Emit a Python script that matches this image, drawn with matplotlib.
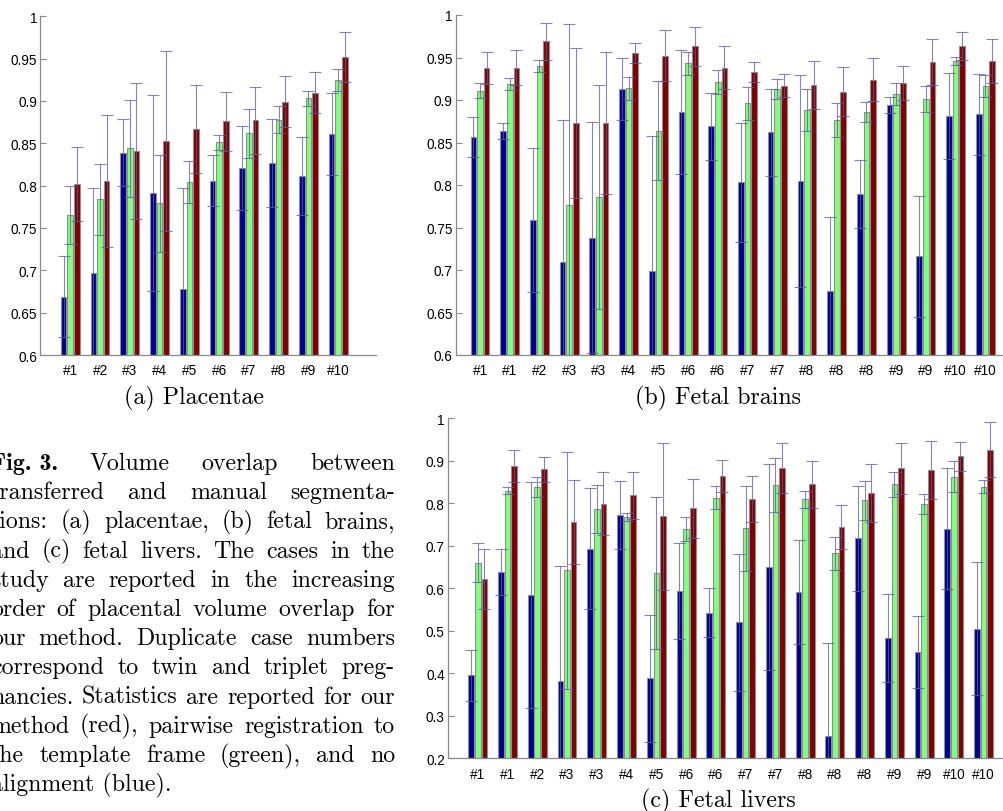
import numpy as np
import matplotlib
matplotlib.use("Agg")
import matplotlib.pyplot as plt
from matplotlib.transforms import IdentityTransform

W, H = 1004, 812

# (a) placentae
labels_a = ['#1', '#2', '#3', '#4', '#5', '#6', '#7', '#8', '#9', '#10']
blue_a = [0.669, 0.697, 0.839, 0.791, 0.678, 0.806, 0.821, 0.827, 0.811, 0.861]
blue_a_sd = [0.048, 0.100, 0.040, 0.116, 0.119, 0.030, 0.050, 0.052, 0.046, 0.048]
green_a = [0.765, 0.784, 0.844, 0.779, 0.804, 0.851, 0.862, 0.878, 0.903, 0.925]
green_a_sd = [0.034, 0.042, 0.057, 0.057, 0.025, 0.009, 0.029, 0.016, 0.0085, 0.013]
red_a = [0.802, 0.805, 0.841, 0.853, 0.867, 0.876, 0.877, 0.899, 0.910, 0.952]
red_a_sd = [0.044, 0.078, 0.080, 0.106, 0.052, 0.035, 0.040, 0.030, 0.024, 0.030]

# (b) fetal brains / (c) fetal livers share the case labels
labels_bc = ['#1', '#1', '#2', '#3', '#3', '#4', '#5', '#6', '#6',
             '#7', '#7', '#8', '#8', '#8', '#9', '#9', '#10', '#10']
blue_b = [0.8565, 0.864, 0.759, 0.709, 0.738, 0.913, 0.699, 0.886, 0.869,
          0.803, 0.862, 0.805, 0.675, 0.789, 0.894, 0.716, 0.881, 0.883]
blue_b_sd = [0.023, 0.0095, 0.085, 0.167, 0.136, 0.037, 0.159, 0.0725, 0.039,
             0.070, 0.051, 0.125, 0.087, 0.040, 0.009, 0.0715, 0.0505, 0.048]
green_b = [0.911, 0.919, 0.940, 0.777, 0.786, 0.914, 0.864, 0.943, 0.921,
           0.896, 0.913, 0.888, 0.8765, 0.886, 0.907, 0.901, 0.946, 0.916]
green_b_sd = [0.009, 0.007, 0.0065, 0.213, 0.132, 0.0135, 0.058, 0.0135, 0.0145,
              0.019, 0.012, 0.025, 0.0205, 0.012, 0.0125, 0.015, 0.005, 0.013]
red_b = [0.938, 0.938, 0.969, 0.873, 0.873, 0.955, 0.952, 0.963, 0.938,
         0.933, 0.917, 0.918, 0.910, 0.924, 0.920, 0.945, 0.964, 0.946]
red_b_sd = [0.019, 0.0205, 0.022, 0.088, 0.083, 0.012, 0.030, 0.023, 0.025,
            0.012, 0.0135, 0.028, 0.029, 0.0255, 0.0205, 0.027, 0.0165, 0.026]

blue_c = [0.395, 0.639, 0.584, 0.383, 0.693, 0.773, 0.388, 0.594, 0.543,
          0.520, 0.650, 0.591, 0.253, 0.718, 0.483, 0.450, 0.740, 0.505]
blue_c_sd = [0.060, 0.054, 0.265, 0.270, 0.142, 0.080, 0.149, 0.1135, 0.0575,
             0.161, 0.242, 0.122, 0.218, 0.1235, 0.1035, 0.0855, 0.1425, 0.156]
green_c = [0.660, 0.830, 0.838, 0.642, 0.787, 0.768, 0.636, 0.739, 0.813,
           0.741, 0.843, 0.809, 0.682, 0.807, 0.845, 0.799, 0.863, 0.839]
green_c_sd = [0.046, 0.008, 0.024, 0.278, 0.056, 0.0095, 0.178, 0.028, 0.0275,
              0.100, 0.0645, 0.0205, 0.0385, 0.0455, 0.029, 0.0235, 0.0355, 0.015]
red_c = [0.622, 0.888, 0.880, 0.756, 0.799, 0.819, 0.770, 0.788, 0.865,
         0.810, 0.883, 0.845, 0.744, 0.824, 0.882, 0.878, 0.911, 0.926]
red_c_sd = [0.070, 0.037, 0.030, 0.098, 0.0735, 0.055, 0.173, 0.069, 0.038,
            0.0545, 0.058, 0.0555, 0.0525, 0.0685, 0.059, 0.0675, 0.034, 0.065]

yticks_ab = [0.6, 0.65, 0.7, 0.75, 0.8, 0.85, 0.9, 0.95, 1.0]
yticks_c = [0.2, 0.3, 0.4, 0.5, 0.6, 0.7, 0.8, 0.9, 1.0]

caption_lines = [
    "Fig. 3. Volume overlap between",
    "transferred and manual segmenta-",
    "tions: (a) placentae, (b) fetal brains,",
    "and (c) fetal livers. The cases in the",
    "study are reported in the increasing",
    "order of placental volume overlap for",
    "our method. Duplicate case numbers",
    "correspond to twin and triplet preg-",
    "nancies. Statistics are reported for our",
    "method (red), pairwise registration to",
    "the template frame (green), and no",
    "alignment (blue).",
]

COLORS = ['#00008f', '#80ff80', '#800000']
EDGE = '#8f8f8f'
ERR = '#5c5c9e'
SPINE = '#8a8a8a'
OFFS = [-0.222, 0.0, 0.222]
BAR_W = 0.19
TICK_FONT = 'Liberation Sans'
SERIF = 'cmr10'
FS_CAP = 17.2

fig = plt.figure(figsize=(W/100, H/100), dpi=100)


def px_rect(left, top, right, bottom):
    return [left/W, 1 - bottom/H, (right-left)/W, (bottom-top)/H]


def fmt(v):
    return ('%g' % v)


def draw_panel(rect, labels, series, sds, ylim, yticks, xlim):
    ax = fig.add_axes(rect)
    x = np.arange(1, len(labels) + 1)
    for k in range(3):
        pos = x + OFFS[k]
        ax.bar(pos, series[k], width=BAR_W, bottom=0, color=COLORS[k],
               edgecolor=EDGE, linewidth=0.8, zorder=2)
        ax.errorbar(pos, series[k], yerr=sds[k], fmt='none', ecolor=ERR,
                    elinewidth=0.8, capsize=4.5, capthick=0.8, alpha=0.75, zorder=3)
    ax.set_xlim(*xlim)
    ax.set_ylim(*ylim)
    ax.set_xticks(x)
    ax.set_xticklabels(labels, fontfamily=TICK_FONT, fontsize=9.8)
    ax.set_yticks(yticks)
    ax.set_yticklabels([fmt(v) for v in yticks], fontfamily=TICK_FONT, fontsize=9.8)
    ax.tick_params(axis='x', length=0, pad=6)
    ax.tick_params(axis='y', direction='in', length=4, width=0.8, color=SPINE, pad=2.5)
    for s in ['top', 'right']:
        ax.spines[s].set_visible(False)
    for s in ['left', 'bottom']:
        ax.spines[s].set_color(SPINE)
        ax.spines[s].set_linewidth(0.9)
    ax.patch.set_alpha(0)
    return ax


draw_panel(px_rect(40.5, 17.3, 376, 356), labels_a,
           [blue_a, green_a, red_a], [blue_a_sd, green_a_sd, red_a_sd],
           (0.6, 1.0), yticks_ab, (0.0, 11.27))
draw_panel(px_rect(456, 16, 1010, 356), labels_bc,
           [blue_b, green_b, red_b], [blue_b_sd, green_b_sd, red_b_sd],
           (0.6, 1.0), yticks_ab, (0.192, 18.83))
draw_panel(px_rect(448.3, 419.3, 1014, 759.3), labels_bc,
           [blue_c, green_c, red_c], [blue_c_sd, green_c_sd, red_c_sd],
           (0.2, 1.0), yticks_c, (0.009, 19.02))

# sub captions, pixel coords from the top
for txt, cx, by in [("(a) Placentae", 194, 404), ("(b) Fetal brains", 718, 404),
                    ("(c) Fetal livers", 718, 807)]:
    fig.text(cx, H - by, txt, transform=IdentityTransform(), ha='center',
             va='baseline', fontfamily=SERIF, fontsize=FS_CAP)

# justified caption
renderer = fig.canvas.get_renderer()
left, right = -9, 395
base0, step = 470, 29.2
for i, line in enumerate(caption_lines):
    y = H - (base0 + i*step)
    if i == len(caption_lines) - 1:
        fig.text(left, y, line, transform=IdentityTransform(), va='baseline',
                 fontfamily=SERIF, fontsize=FS_CAP)
        continue
    words = line.split(' ')
    if i == 0:
        words = ["Fig. 3."] + words[2:]
    texts = []
    for j, w in enumerate(words):
        fam = 'cmb10' if (i == 0 and j == 0) else SERIF
        t = fig.text(0, y, w, transform=IdentityTransform(), va='baseline',
                     fontfamily=fam, fontsize=FS_CAP)
        texts.append(t)
    widths = [t.get_window_extent(renderer).width for t in texts]
    gap = (right - left - sum(widths)) / (len(texts) - 1)
    xx = left
    for t, wd in zip(texts, widths):
        t.set_x(xx)
        xx += wd + gap

fig.savefig('out.png', dpi=100)
